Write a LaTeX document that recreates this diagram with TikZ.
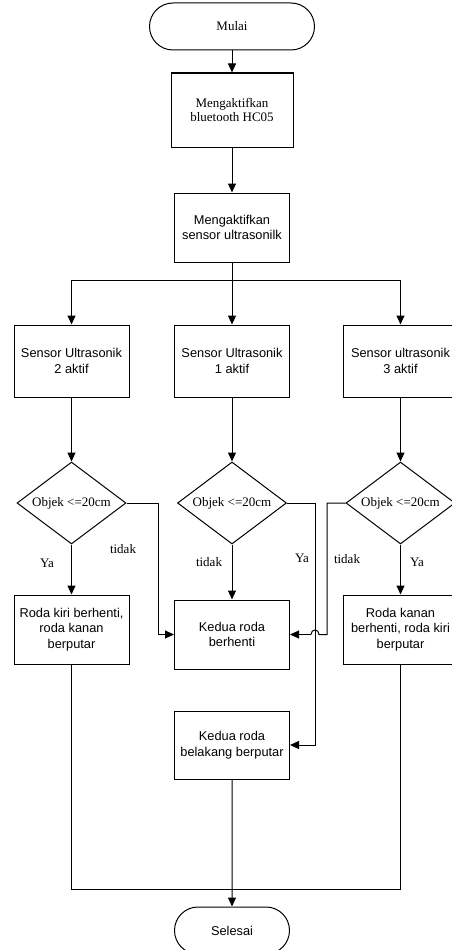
\documentclass[tikz,border=0pt]{standalone}
\usepackage{fontspec}
\setmainfont{Liberation Serif}
\setsansfont{Liberation Sans}
\usepackage{tikz}
\usetikzlibrary{shapes.misc,shapes.geometric,arrows.meta}

\begin{document}
\begin{tikzpicture}[x=1pt,y=-1pt,line width=1pt,
    kotak/.style={draw,rectangle,minimum width=115pt,minimum height=69pt,inner sep=0pt,
      align=center,font=\sffamily\fontsize{12.8}{15.6}\selectfont},
    kotakser/.style={kotak,font=\fontsize{13}{14.2}\selectfont},
    ujung/.style={draw,rounded rectangle,minimum height=47pt,inner sep=0pt},
    pilih/.style={draw,diamond,minimum width=109pt,minimum height=82pt,inner sep=0pt,
      aspect=1.33,font=\fontsize{13}{14}\selectfont},
    ket/.style={font=\fontsize{13}{14}\selectfont},
    panah/.style={-{Triangle[width=8pt,length=9pt]}}]
\useasboundingbox[fill=white] (0,0) rectangle (451,950);

\node[ujung,minimum width=165pt,font=\fontsize{13}{14}\selectfont] (mulai) at (232,26.5) {Mulai};
\node[kotakser,minimum width=122pt,minimum height=74pt] (bt) at (232,110) {Mengaktifkan\\bluetooth HC05};
\node[kotak] (us) at (232,227.5) {Mengaktifkan\\sensor ultrasonilk};

\node[kotak,minimum height=72pt] (s2) at (71.5,361) {Sensor Ultrasonik\\2 aktif};
\node[kotak,minimum height=72pt] (s1) at (232,361) {Sensor Ultrasonik\\1 aktif};
\node[kotak,minimum height=72pt] (s3) at (400.5,361) {Sensor ultrasonik\\3 aktif};

\node[pilih] (d2) at (71.5,503) {Objek <=20cm};
\node[pilih] (d1) at (232,503) {Objek <=20cm};
\node[pilih] (d3) at (400.5,503) {Objek <=20cm};

\node[kotak] (r2) at (71.5,629.5) {Roda kiri berhenti,\\roda kanan\\berputar};
\node[kotak] (henti) at (232,634.5) {Kedua roda\\berhenti};
\node[kotak] (r3) at (400.5,629.5) {Roda kanan\\berhenti, roda kiri\\berputar};
\node[kotak,minimum height=68pt] (mundur) at (232,745) {Kedua roda\\belakang berputar};
\node[ujung,minimum width=115pt,font=\sffamily\fontsize{12.8}{14}\selectfont] (selesai) at (232,930.5) {Selesai};

\node[ket] (ya2) at (47,563) {Ya};
\node[ket] (tdk2) at (123,549) {tidak};
\node[ket] (tdk1) at (209,562) {tidak};
\node[ket] (ya1) at (302,558) {Ya};
\node[ket] (tdk3) at (347,559) {tidak};
\node[ket] (ya3) at (417,562) {Ya};

\coordinate (cabang) at (232,280);
\coordinate (t2) at (158,503);
\coordinate (y1) at (315,503);
\coordinate (t3) at (327,503);
\coordinate (lompatR) at (319,634.5);
\coordinate (lompatL) at (311,634.5);
\coordinate (g2) at (71.5,889);
\coordinate (g3) at (400.5,889);

\draw[panah] (mulai) -- (bt);
\draw[panah] (bt) -- (us);
\draw (us) -- (cabang);
\draw[panah] (cabang) -| (s2);
\draw[panah] (cabang) -- (s1);
\draw[panah] (cabang) -| (s3);

\draw[panah] (s2) -- (d2);
\draw[panah] (s1) -- (d1);
\draw[panah] (s3) -- (d3);

\draw[panah] (d2) -- (r2);
\draw[panah] (d2.east) -- (t2) |- (henti.west);
\draw[panah] (d1) -- (henti);
\draw[panah] (d1.east) -- (y1) |- (mundur.east);
\draw[panah] (d3) -- (r3);
\draw (d3.west) -- (t3) |- (lompatR) .. controls (319,628.5) and (311,628.5) .. (lompatL);
\draw[panah] (lompatL) -- (henti.east);

\draw (r2) -- (g2) -- (g3) -- (r3);
\draw[panah] (mundur) -- (selesai);
\end{tikzpicture}
\end{document}
